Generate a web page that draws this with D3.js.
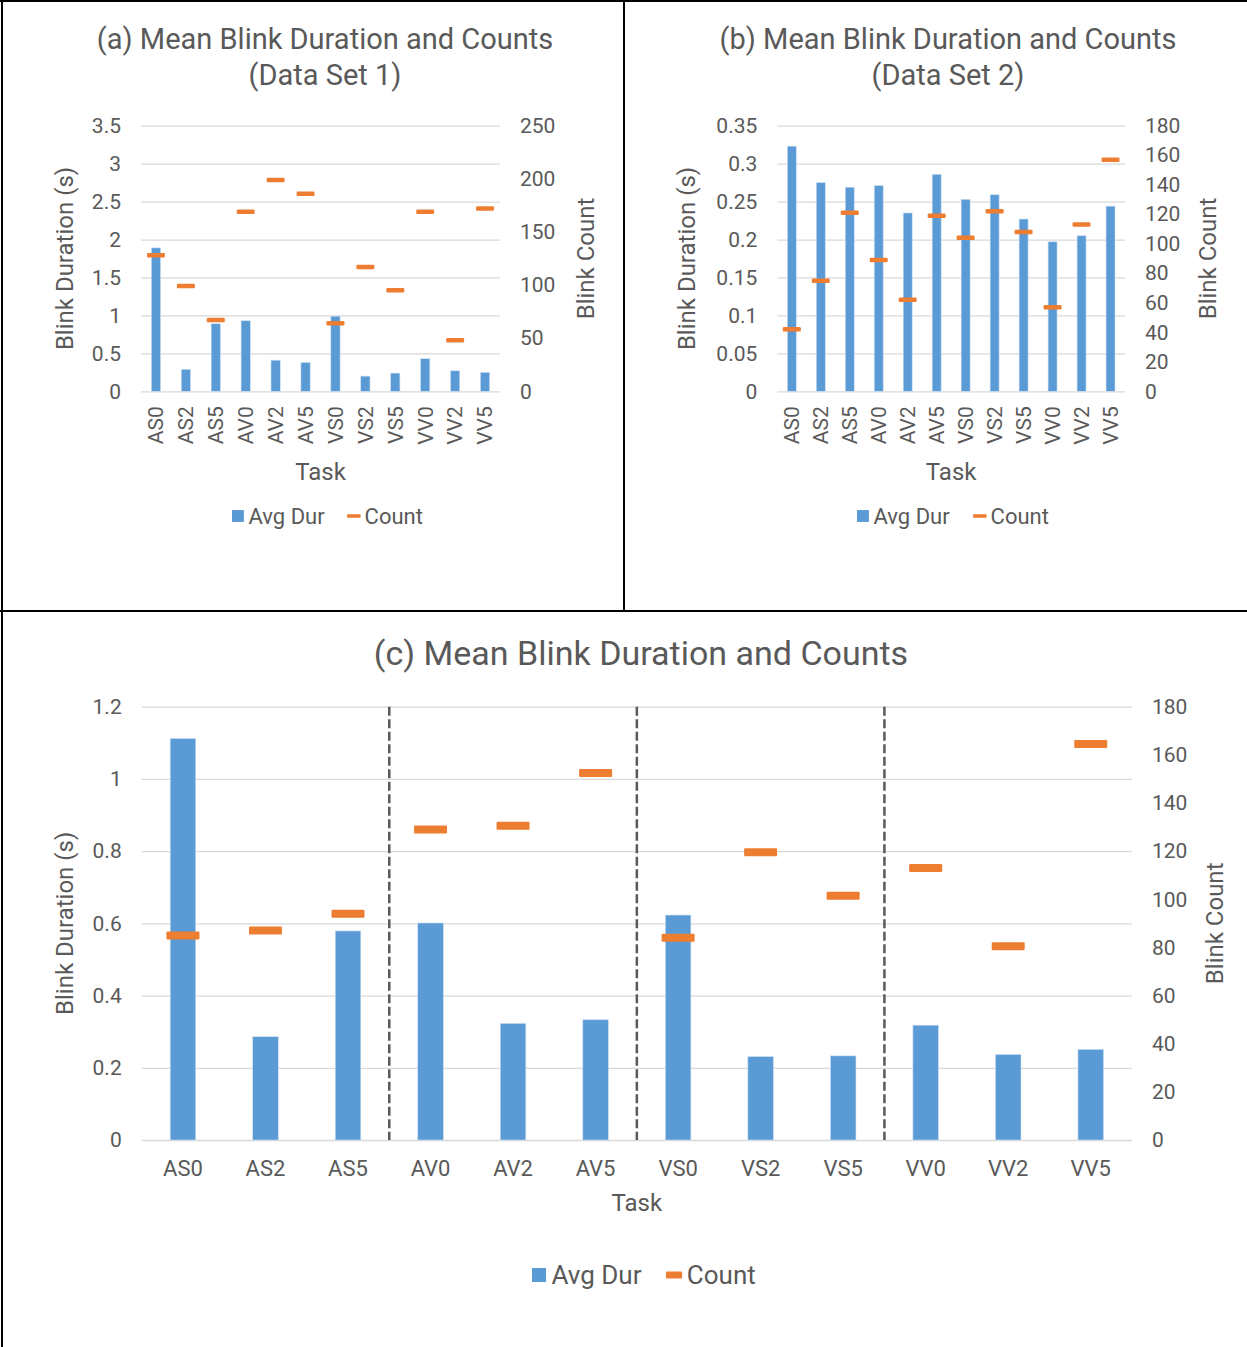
<!DOCTYPE html>
<html>
<head>
<meta charset="utf-8">
<script src="https://cdn.jsdelivr.net/npm/d3@7"></script>
<style>
  body { margin: 0; background: #fff; }
  svg text { font-family: Roboto, "Noto Sans", sans-serif; fill: #595959; }
</style>
</head>
<body>
<svg id="chart" width="1247" height="1347"></svg>
<script>
// task categories (same for all three panels)
const tasks = ["AS0", "AS2", "AS5", "AV0", "AV2", "AV5", "VS0", "VS2", "VS5", "VV0", "VV2", "VV5"];

// (a) data set 1
const durA = [1.89, 0.29, 0.89, 0.93, 0.41, 0.38, 0.99, 0.20, 0.24, 0.43, 0.27, 0.25];
const countA = [128, 99, 67, 169, 199, 186, 64, 117, 95, 169, 48, 172];
const leftTicksA = [0, 0.5, 1, 1.5, 2, 2.5, 3, 3.5];
const rightTicksA = [0, 50, 100, 150, 200, 250];

// (b) data set 2
const durB = [0.323, 0.275, 0.269, 0.271, 0.235, 0.286, 0.253, 0.259, 0.227, 0.197, 0.205, 0.244];
const countB = [42, 75, 121, 89, 62, 119, 104, 122, 108, 57, 113, 157];
const leftTicksB = [0, 0.05, 0.1, 0.15, 0.2, 0.25, 0.3, 0.35];
const rightTicksB = [0, 20, 40, 60, 80, 100, 120, 140, 160, 180];

// (c) combined
const durC = [1.112, 0.286, 0.579, 0.601, 0.323, 0.333, 0.623, 0.231, 0.233, 0.318, 0.237, 0.251];
const countC = [85, 87, 94, 129, 130.5, 152.5, 84, 119.5, 101.5, 113, 80.5, 164.5];
const leftTicksC = [0, 0.2, 0.4, 0.6, 0.8, 1, 1.2];
const rightTicksC = [0, 20, 40, 60, 80, 100, 120, 140, 160, 180];
const groupBreaks = ["AV0", "VS0", "VV0"];

const blue = "#5B9BD5", orange = "#ED7D31", grid = "#D9D9D9";
const svg = d3.select("#chart");

// panel frame lines
const frame = svg.append("g").attr("stroke", "#000").attr("stroke-width", 2);
frame.append("line").attr("x1", 0).attr("x2", 1247).attr("y1", 1).attr("y2", 1);
frame.append("line").attr("x1", 2).attr("x2", 2).attr("y1", 0).attr("y2", 1347);
frame.append("line").attr("x1", 624).attr("x2", 624).attr("y1", 0).attr("y2", 611);
frame.append("line").attr("x1", 0).attr("x2", 1247).attr("y1", 611).attr("y2", 611);

const drawPanel = function (p) {
    let g = svg.append("g");

    let x = d3.scaleBand().domain(tasks).range([p.x0, p.x1]);
    let yL = d3.scaleLinear().domain([0, d3.max(p.leftTicks)]).range([p.yBottom, p.yTop]);
    let yR = d3.scaleLinear().domain([0, d3.max(p.rightTicks)]).range([p.yBottom, p.yTop]);

    // gridlines
    g.append("g")
        .attr("transform", `translate(${p.x0},0)`)
        .call(d3.axisLeft(yL).tickValues(p.leftTicks).tickSize(-(p.x1 - p.x0)).tickFormat(""))
        .call(a => a.select(".domain").remove())
        .call(a => a.selectAll("line").attr("stroke", grid).attr("stroke-width", 1.3));

    // left axis labels
    g.append("g")
        .attr("transform", `translate(${p.x0},0)`)
        .call(d3.axisLeft(yL).tickValues(p.leftTicks).tickSize(0).tickPadding(20).tickFormat(d => String(d)))
        .call(a => a.select(".domain").remove())
        .call(a => a.selectAll("text").style("font-size", p.tickSize + "px").attr("fill", "#595959"));

    // right axis labels
    g.append("g")
        .attr("transform", `translate(${p.x1},0)`)
        .call(d3.axisRight(yR).tickValues(p.rightTicks).tickSize(0).tickPadding(20).tickFormat(d => String(d)))
        .call(a => a.select(".domain").remove())
        .call(a => a.selectAll("text").style("font-size", p.tickSize + "px").attr("fill", "#595959"));

    // bottom axis (task names)
    let xAxis = g.append("g")
        .attr("transform", `translate(0,${p.yBottom})`)
        .call(d3.axisBottom(x).tickSize(0).tickPadding(p.rotate ? 16 : 20))
        .call(a => a.select(".domain").remove());
    xAxis.selectAll("text").style("font-size", p.xTickSize + "px").attr("fill", "#595959");
    if (p.rotate) {
        xAxis.selectAll("text")
            .attr("transform", "rotate(-90)")
            .attr("text-anchor", "end")
            .attr("x", -15).attr("y", 0).attr("dy", "0.35em");
    }

    // group separators
    if (p.breaks) {
        p.breaks.forEach(b => {
            g.append("line")
                .attr("x1", x(b)).attr("x2", x(b))
                .attr("y1", p.yTop).attr("y2", p.yBottom)
                .attr("stroke", "#595959").attr("stroke-width", 2.5)
                .attr("stroke-dasharray", "9,3.5");
        });
    }

    // bars
    let bw = x.bandwidth() * 0.31;
    g.selectAll(".bar").data(tasks).join("rect")
        .attr("x", (d, i) => x(d) + x.bandwidth() / 2 - bw / 2)
        .attr("y", (d, i) => yL(p.dur[i]))
        .attr("width", bw)
        .attr("height", (d, i) => yL(0) - yL(p.dur[i]))
        .attr("fill", blue)
        .attr("stroke", "#cfe0f3").attr("stroke-width", 0.6);

    // count markers
    let mw = x.bandwidth() * p.markW;
    g.selectAll(".mark").data(tasks).join("rect")
        .attr("x", d => x(d) + x.bandwidth() / 2 - mw / 2)
        .attr("y", (d, i) => yR(p.count[i]) - p.markH / 2)
        .attr("width", mw)
        .attr("height", p.markH)
        .attr("rx", 1.2)
        .attr("fill", orange);

    // titles
    p.title.forEach((t, i) => {
        g.append("text")
            .attr("x", p.titleX).attr("y", p.titleY + i * 36)
            .attr("text-anchor", "middle")
            .style("font-size", p.titleSize + "px")
            .text(t);
    });

    let my = (p.yTop + p.yBottom) / 2;
    g.append("text")
        .attr("transform", `translate(${p.yLabelL},${my}) rotate(-90)`)
        .attr("text-anchor", "middle").attr("dy", "0.35em")
        .style("font-size", p.labelSize + "px")
        .text("Blink Duration (s)");
    g.append("text")
        .attr("transform", `translate(${p.yLabelR},${my}) rotate(-90)`)
        .attr("text-anchor", "middle").attr("dy", "0.35em")
        .style("font-size", p.labelSize + "px")
        .text("Blink Count");
    g.append("text")
        .attr("x", (p.x0 + p.x1) / 2).attr("y", p.taskY)
        .attr("text-anchor", "middle").attr("dy", "0.35em")
        .style("font-size", p.labelSize + "px")
        .text("Task");

    // legend
    let lg = g.append("g").attr("transform", `translate(${p.legendX},${p.legendY})`);
    let s = p.legendSize;
    lg.append("rect").attr("x", 0).attr("y", -s * 0.27).attr("width", s * 0.54).attr("height", s * 0.54).attr("fill", blue);
    lg.append("text").attr("x", s * 0.75).attr("y", 0).attr("dy", "0.35em").style("font-size", s + "px").text("Avg Dur");
    lg.append("rect").attr("x", p.legendGap).attr("y", -p.markH / 2 + 0.5).attr("width", s * 0.62).attr("height", p.markH - 1)
        .attr("rx", 1).attr("fill", orange);
    lg.append("text").attr("x", p.legendGap + s * 0.8).attr("y", 0).attr("dy", "0.35em").style("font-size", s + "px").text("Count");
}

drawPanel({
    x0: 141, x1: 500, yTop: 125.7, yBottom: 391.3,
    leftTicks: leftTicksA, rightTicks: rightTicksA, dur: durA, count: countA,
    tickSize: 21, xTickSize: 21, rotate: true, markW: 0.6, markH: 4.5,
    title: ["(a) Mean Blink Duration and Counts", "(Data Set 1)"], titleX: 325, titleY: 49, titleSize: 29,
    labelSize: 24, yLabelL: 65, yLabelR: 586, taskY: 472,
    legendX: 232, legendY: 516, legendSize: 22, legendGap: 115
});

drawPanel({
    x0: 777.3, x1: 1125, yTop: 125.7, yBottom: 391.3,
    leftTicks: leftTicksB, rightTicks: rightTicksB, dur: durB, count: countB,
    tickSize: 21, xTickSize: 21, rotate: true, markW: 0.62, markH: 4.5,
    title: ["(b) Mean Blink Duration and Counts", "(Data Set 2)"], titleX: 948, titleY: 49, titleSize: 29,
    labelSize: 24, yLabelL: 687, yLabelR: 1208, taskY: 472,
    legendX: 857, legendY: 516, legendSize: 22, legendGap: 116
});

drawPanel({
    x0: 141.7, x1: 1132, yTop: 706.7, yBottom: 1140,
    leftTicks: leftTicksC, rightTicks: rightTicksC, dur: durC, count: countC,
    tickSize: 21, xTickSize: 22, rotate: false, markW: 0.4, markH: 8, breaks: groupBreaks,
    title: ["(c) Mean Blink Duration and Counts"], titleX: 641, titleY: 665, titleSize: 34,
    labelSize: 24, yLabelL: 65, yLabelR: 1215, taskY: 1203,
    legendX: 532, legendY: 1275, legendSize: 26, legendGap: 134
});
</script>
</body>
</html>
